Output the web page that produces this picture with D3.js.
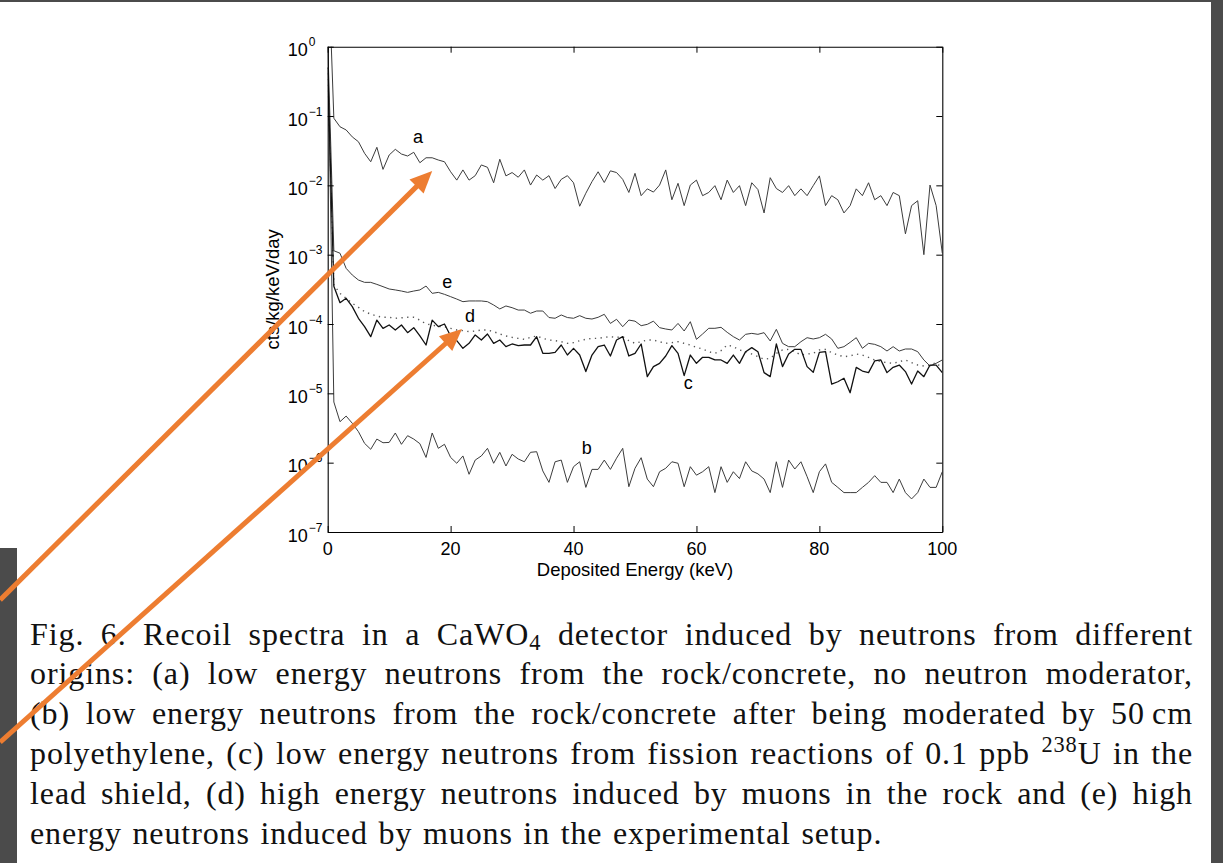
<!DOCTYPE html>
<html>
<head>
<meta charset="utf-8">
<script src="https://cdn.jsdelivr.net/npm/d3@7"></script>
<style>
  html, body { margin: 0; padding: 0; background: #fff; }
  svg { display: block; }
</style>
</head>
<body>
<svg id="fig" width="1223" height="863"></svg>
<script>
// Deposited energy bins (keV); bin 0 holds the low-energy spike
const energies = d3.range(0, 101);

// Recoil spectra, cts/kg/keV/day
const seriesA = [30, 0.093, 0.070, 0.063, 0.050, 0.0426, 0.029, 0.0219, 0.0354, 0.0170, 0.0274,
  0.0331, 0.0283, 0.0265, 0.030, 0.0212, 0.025, 0.025, 0.0232, 0.0219, 0.0157,
  0.0119, 0.0167, 0.0119, 0.0138, 0.0197, 0.0182, 0.0109, 0.0238, 0.0137, 0.0153,
  0.0131, 0.0167, 0.0101, 0.0141, 0.0119, 0.0138, 0.0090, 0.0122, 0.0138, 0.0109,
  0.0050, 0.0077, 0.0113, 0.0157, 0.011, 0.0162, 0.0153, 0.0122, 0.0079, 0.0149,
  0.0071, 0.0089, 0.0080, 0.0101, 0.0167, 0.0062, 0.0107, 0.0051, 0.0101, 0.0119,
  0.0071, 0.0079, 0.0099, 0.0062, 0.0119, 0.0079, 0.0099, 0.0051, 0.0109, 0.0087,
  0.0040, 0.0129, 0.0090, 0.0079, 0.0099, 0.0071, 0.0089, 0.0071, 0.0099, 0.0137,
  0.0051, 0.0071, 0.0062, 0.0040, 0.0051, 0.0089, 0.0071, 0.0109, 0.0062, 0.0071,
  0.0051, 0.0079, 0.0071, 0.0020, 0.0051, 0.0060, 0.0010, 0.0101, 0.0051, 0.00105];

const seriesB = [1.5, 7.5e-6, 3.9e-6, 4.7e-6, 3.7e-6, 2.8e-6, 1.9e-6, 1.56e-6, 2.19e-6, 1.94e-6, 1.96e-6,
  2.68e-6, 1.84e-6, 2.45e-6, 2.19e-6, 1.88e-6, 1.19e-6, 2.68e-6, 1.61e-6, 1.84e-6, 1.19e-6,
  9.8e-7, 1.25e-6, 6.8e-7, 1.09e-6, 1.25e-6, 1.61e-6, 9.8e-7, 1.41e-6, 8.95e-7, 1.32e-6,
  1.13e-6, 1.03e-6, 1.41e-6, 1.44e-6, 7.6e-7, 5.2e-7, 1.03e-6, 1.09e-6, 5.2e-7, 8.75e-7,
  1.03e-6, 4.4e-7, 8.0e-7, 8.0e-7, 1.09e-6, 8.0e-7, 1.16e-6, 1.61e-6, 4.5e-7, 8.3e-7,
  1.18e-6, 5.8e-7, 4.5e-7, 7.4e-7, 8.3e-7, 1.03e-6, 9.8e-7, 4.5e-7, 8.75e-7, 6.6e-7,
  7.4e-7, 8.75e-7, 3.7e-7, 8.75e-7, 5.2e-7, 7.4e-7, 5.9e-7, 1.03e-6, 7.6e-7, 6.9e-7,
  5.8e-7, 3.7e-7, 1.03e-6, 4.4e-7, 1.09e-6, 8.1e-7, 1.03e-6, 6.3e-7, 3.7e-7, 7.4e-7,
  9.6e-7, 5.2e-7, 4.4e-7, 3.7e-7, 3.7e-7, 3.7e-7, 4.4e-7, 5.2e-7, 6.5e-7, 5.2e-7,
  5.2e-7, 3.7e-7, 5.8e-7, 3.7e-7, 3.0e-7, 3.7e-7, 5.8e-7, 4.4e-7, 4.4e-7, 7.4e-7];

const seriesC = [0.5, 3.5e-4, 2.03e-4, 2.35e-4, 1.78e-4, 1.21e-4, 9.16e-5, 6.57e-5, 1.14e-4, 8.67e-5, 9.68e-5,
  8.2e-5, 9.68e-5, 7.5e-5, 8.86e-5, 6.72e-5, 4.98e-5, 1.14e-4, 9.16e-5, 1.0e-4, 6.72e-5,
  5.75e-5, 4.46e-5, 5.26e-5, 6.95e-5, 5.88e-5, 7.18e-5, 5.26e-5, 5.88e-5, 4.71e-5, 5.15e-5,
  4.87e-5, 4.98e-5, 4.98e-5, 6.57e-5, 3.78e-5, 3.78e-5, 3.9e-5, 4.98e-5, 3.57e-5, 4.46e-5,
  3.57e-5, 2.06e-5, 3.57e-5, 4.71e-5, 4.98e-5, 3.46e-5, 5.88e-5, 6.57e-5, 3.46e-5, 3.78e-5,
  5.15e-5, 1.74e-5, 2.43e-5, 2.71e-5, 3.46e-5, 4.87e-5, 3.78e-5, 1.8e-5, 3.57e-5, 2.71e-5,
  3.31e-5, 3.31e-5, 3.03e-5, 3.03e-5, 2.71e-5, 3.57e-5, 2.71e-5, 3.99e-5, 4.56e-5, 3.99e-5,
  1.99e-5, 1.74e-5, 5.15e-5, 2.43e-5, 3.69e-5, 4.31e-5, 4.31e-5, 2.43e-5, 2.01e-5, 3.9e-5,
  3.99e-5, 1.36e-5, 1.47e-5, 1.65e-5, 1.02e-5, 2.37e-5, 2.1e-5, 1.99e-5, 2.93e-5, 3.03e-5,
  1.99e-5, 2.37e-5, 2.56e-5, 2.06e-5, 1.36e-5, 2.1e-5, 1.74e-5, 2.56e-5, 2.56e-5, 1.99e-5];

const seriesD = [0.5, 3.66e-4, 2.77e-4, 2.35e-4, 1.99e-4, 1.74e-4, 1.51e-4, 1.39e-4, 1.30e-4, 1.25e-4, 1.25e-4,
  1.21e-4, 1.23e-4, 1.25e-4, 1.25e-4, 1.14e-4, 1.0e-4, 9.68e-5, 9.16e-5, 9.16e-5, 8.67e-5,
  8.2e-5, 8.02e-5, 7.76e-5, 7.93e-5, 8.2e-5, 8.2e-5, 7.76e-5, 7.18e-5, 6.72e-5, 6.42e-5,
  6.21e-5, 6.01e-5, 6.42e-5, 6.72e-5, 6.21e-5, 5.88e-5, 5.75e-5, 5.56e-5, 5.26e-5, 5.38e-5,
  5.75e-5, 6.01e-5, 6.21e-5, 6.21e-5, 6.42e-5, 6.57e-5, 6.42e-5, 6.57e-5, 5.75e-5, 5.26e-5,
  5.56e-5, 5.88e-5, 5.88e-5, 5.56e-5, 5.26e-5, 5.38e-5, 5.56e-5, 5.26e-5, 4.98e-5, 4.61e-5,
  4.36e-5, 3.99e-5, 3.78e-5, 4.13e-5, 4.98e-5, 4.71e-5, 4.22e-5, 3.99e-5, 3.69e-5, 3.38e-5,
  3.1e-5, 3.2e-5, 3.78e-5, 4.22e-5, 4.31e-5, 3.99e-5, 3.57e-5, 3.69e-5, 3.78e-5, 4.22e-5,
  4.31e-5, 3.86e-5, 3.57e-5, 3.38e-5, 3.46e-5, 3.69e-5, 3.57e-5, 3.31e-5, 3.03e-5, 2.86e-5,
  2.77e-5, 2.71e-5, 2.86e-5, 3.03e-5, 2.77e-5, 2.56e-5, 2.48e-5, 2.56e-5, 2.77e-5, 2.29e-5];

const seriesE = [1.2, 1.14e-3, 1.05e-3, 6.35e-4, 5.09e-4, 4.31e-4, 3.99e-4, 3.99e-4, 3.73e-4, 3.46e-4, 3.2e-4,
  3.1e-4, 2.99e-4, 2.86e-4, 2.99e-4, 3.1e-4, 3.53e-4, 2.77e-4, 2.86e-4, 2.68e-4, 2.48e-4,
  2.29e-4, 2.1e-4, 2.15e-4, 2.15e-4, 2.15e-4, 2.1e-4, 1.88e-4, 1.65e-4, 1.82e-4, 1.72e-4,
  1.59e-4, 1.59e-4, 1.43e-4, 1.54e-4, 1.54e-4, 1.24e-4, 1.21e-4, 1.35e-4, 1.24e-4, 1.21e-4,
  1.32e-4, 1.21e-4, 1.18e-4, 1.25e-4, 1.38e-4, 1.02e-4, 1.17e-4, 9.15e-5, 1.14e-4, 1.1e-4,
  9.46e-5, 9.89e-5, 1.1e-4, 8.86e-5, 8.47e-5, 8.2e-5, 1.02e-4, 7.93e-5, 1.08e-4, 6.01e-5,
  7.18e-5, 8.67e-5, 8.67e-5, 8.96e-5, 7.59e-5, 6.57e-5, 5.88e-5, 7.1e-5, 7.33e-5, 7.1e-5,
  7.5e-5, 5.69e-5, 8.38e-5, 5.26e-5, 4.71e-5, 4.71e-5, 5.56e-5, 6.35e-5, 6.08e-5, 6.35e-5,
  7.1e-5, 6.08e-5, 4.46e-5, 4.71e-5, 5.44e-5, 6.35e-5, 4.46e-5, 5.26e-5, 5.09e-5, 4.71e-5,
  4.08e-5, 4.71e-5, 4.08e-5, 4.36e-5, 4.36e-5, 3.99e-5, 3.03e-5, 2.48e-5, 2.71e-5, 3.03e-5];

// Axis ticks
const xTicks = [0, 20, 40, 60, 80, 100];
const yTickExponents = [0, -1, -2, -3, -4, -5, -6, -7];

// Curve tags: [letter, energy (keV), rate at the text baseline]
const curveTags = [
  ["a", 14.7, 0.0412],
  ["e", 19.46, 3.27e-4],
  ["d", 23.15, 1.08e-4],
  ["c", 58.67, 1.16e-5],
  ["b", 42.14, 1.33e-6]
];

// Highlight arrows, in plot units: tail and tip
const highlightArrows = [
  { from: [-53.3, 1.05e-8], to: [17.0, 0.0161] },
  { from: [-53.3, 9.3e-11], to: [21.85, 8.5e-5] }
];

// Caption lines (_{..} subscript, ^{..} superscript)
const captionLines = [
  "Fig. 6. Recoil spectra in a CaWO_{4} detector induced by neutrons from different",
  "origins: (a) low energy neutrons from the rock/concrete, no neutron moderator,",
  "(b) low energy neutrons from the rock/concrete after being moderated by 50\u2009cm",
  "polyethylene, (c) low energy neutrons from fission reactions of 0.1 ppb ^{238}U in the",
  "lead shield, (d) high energy neutrons induced by muons in the rock and (e) high",
  "energy neutrons induced by muons in the experimental setup."
];

const svg = d3.select("#fig");
const W = 1223, H = 863;
svg.append("rect").attr("width", W).attr("height", H).attr("fill", "#fff");

const plot = { left: 327.7, right: 942.3, top: 46.7, bottom: 532 };
const x = d3.scaleLinear().domain([0, 100]).range([plot.left, plot.right]);
const y = d3.scaleLog().domain([1e-7, 1]).range([plot.bottom, plot.top]);

const sansFont = "'Liberation Sans', Arial, Helvetica, sans-serif";

svg.append("clipPath").attr("id", "plotClip")
  .append("rect")
  .attr("x", plot.left).attr("y", plot.top)
  .attr("width", plot.right - plot.left).attr("height", plot.bottom - plot.top);

// Spectra
const line = d3.line().x((d, i) => x(energies[i])).y(d => y(d));
const curves = [
  { data: seriesA, stroke: "#3c3c3c", width: 1.0, dash: null },
  { data: seriesB, stroke: "#3c3c3c", width: 1.0, dash: null },
  { data: seriesE, stroke: "#3c3c3c", width: 1.0, dash: null },
  { data: seriesD, stroke: "#555", width: 1.4, dash: "1.3 4.4" },
  { data: seriesC, stroke: "#111", width: 1.3, dash: null }
];
const curveG = svg.append("g").attr("clip-path", "url(#plotClip)");
curveG.selectAll("path").data(curves).join("path")
  .attr("d", c => line(c.data))
  .attr("fill", "none")
  .attr("stroke", c => c.stroke)
  .attr("stroke-width", c => c.width)
  .attr("stroke-dasharray", c => c.dash)
  .attr("stroke-linejoin", "round");

// Axes box with inward ticks on all sides
const tickLen = 6;
const axG = svg.append("g").attr("font-family", sansFont);
axG.append("g").attr("transform", `translate(0,${plot.bottom})`)
  .call(d3.axisBottom(x).tickValues(xTicks).tickSizeInner(-tickLen).tickSizeOuter(0).tickFormat(""));
axG.append("g").attr("transform", `translate(0,${plot.top})`)
  .call(d3.axisTop(x).tickValues(xTicks).tickSizeInner(-tickLen).tickSizeOuter(0).tickFormat(""));
const yTickVals = yTickExponents.map(e => Math.pow(10, e));
axG.append("g").attr("transform", `translate(${plot.left},0)`)
  .call(d3.axisLeft(y).tickValues(yTickVals).tickSizeInner(-tickLen).tickSizeOuter(0).tickFormat(""));
axG.append("g").attr("transform", `translate(${plot.right},0)`)
  .call(d3.axisRight(y).tickValues(yTickVals).tickSizeInner(-tickLen).tickSizeOuter(0).tickFormat(""));
axG.selectAll(".domain").attr("stroke", "#000").attr("stroke-width", 1.1);
axG.selectAll(".tick line").attr("stroke", "#000").attr("stroke-width", 1);

// X tick labels
axG.selectAll("text.xlab").data(xTicks).join("text")
  .attr("class", "xlab")
  .attr("x", d => x(d)).attr("y", plot.bottom + 23)
  .attr("text-anchor", "middle")
  .attr("font-size", 18).attr("fill", "#000")
  .text(d => d);

// Y tick labels as powers of ten
const yLab = axG.selectAll("text.ylab").data(yTickExponents).join("text")
  .attr("class", "ylab")
  .attr("x", plot.left - 40)
  .attr("y", d => y(Math.pow(10, d)) + 9.5)
  .attr("font-size", 18).attr("fill", "#000");
yLab.append("tspan").text("10");
yLab.append("tspan")
  .attr("font-size", 12)
  .attr("dy", -10)
  .attr("dx", 1)
  .text(d => d === 0 ? "0" : "\u2212" + Math.abs(d));

// Axis titles
axG.append("text")
  .attr("x", (plot.left + plot.right) / 2).attr("y", plot.bottom + 44)
  .attr("text-anchor", "middle").attr("font-size", 18.5).attr("fill", "#000")
  .text("Deposited Energy (keV)");
axG.append("text")
  .attr("transform", `translate(${plot.left - 49},${(plot.top + plot.bottom) / 2}) rotate(-90)`)
  .attr("text-anchor", "middle").attr("font-size", 18.5).attr("fill", "#000")
  .text("cts/kg/keV/day");

// Curve tags
svg.append("g").selectAll("text").data(curveTags).join("text")
  .attr("x", d => x(d[1])).attr("y", d => y(d[2]))
  .attr("text-anchor", "middle")
  .attr("font-family", sansFont).attr("font-size", 18).attr("fill", "#000")
  .text(d => d[0]);

// Caption, justified between the margins
const cap = { left: 30, right: 1193, firstBaseline: 644.5, lineGap: 39.9, size: 32, spacing: 0.9 };
const capG = svg.append("g")
  .attr("font-family", "'Liberation Serif', 'Times New Roman', serif")
  .attr("font-size", cap.size)
  .attr("letter-spacing", cap.spacing)
  .attr("fill", "#111");

function parseWord(w) {
  const parts = [];
  const re = /(_\{([^}]*)\})|(\^\{([^}]*)\})|([^_^]+)/g;
  let m;
  while ((m = re.exec(w)) !== null) {
    if (m[2] !== undefined) parts.push({ t: m[2], k: "sub" });
    else if (m[4] !== undefined) parts.push({ t: m[4], k: "sup" });
    else parts.push({ t: m[5], k: "" });
  }
  return parts;
}

const shiftOf = { "": 0, sub: 5, sup: -12 };
captionLines.forEach((ln, li) => {
  const words = ln.split(" ");
  const baseline = cap.firstBaseline + li * cap.lineGap;
  const nodes = words.map(w => {
    const t = capG.append("text").attr("y", baseline);
    let shift = 0;
    parseWord(w).forEach(p => {
      const s = t.append("tspan").text(p.t);
      const target = shiftOf[p.k];
      if (target !== shift) s.attr("dy", target - shift);
      shift = target;
      if (p.k) s.attr("font-size", cap.size * 0.7);
    });
    return t;
  });
  const widths = nodes.map(n => n.node().getComputedTextLength());
  const total = d3.sum(widths);
  const isLast = li === captionLines.length - 1;
  const gap = isLast ? cap.size * 0.33
    : (cap.right - cap.left - total) / (words.length - 1);
  let cx = cap.left;
  nodes.forEach((n, i) => {
    n.attr("x", cx);
    cx += widths[i] + gap;
  });
});

// Page frame of the viewer
const frame = svg.append("g").attr("fill", "#4b4b4b");
frame.append("rect").attr("x", 0).attr("y", 0).attr("width", W).attr("height", 2);
frame.append("rect").attr("x", 1211).attr("y", 0).attr("width", W - 1211).attr("height", H);
frame.append("rect").attr("x", 0).attr("y", 548).attr("width", 17).attr("height", H - 548);

// Highlight arrows
const arrowG = svg.append("g");
const headLen = 22, headHalf = 10;
highlightArrows.forEach(a => {
  const x0 = x(a.from[0]), y0 = y(a.from[1]);
  const x1 = x(a.to[0]), y1 = y(a.to[1]);
  const ang = Math.atan2(y1 - y0, x1 - x0);
  const bx = x1 - headLen * Math.cos(ang), by = y1 - headLen * Math.sin(ang);
  arrowG.append("line")
    .attr("x1", x0).attr("y1", y0).attr("x2", bx + 2 * Math.cos(ang)).attr("y2", by + 2 * Math.sin(ang))
    .attr("stroke", "#ED7D31").attr("stroke-width", 5);
  const px = -Math.sin(ang), py = Math.cos(ang);
  arrowG.append("path")
    .attr("d", d3.line()([[x1, y1], [bx + px * headHalf, by + py * headHalf], [bx - px * headHalf, by - py * headHalf]]) + "Z")
    .attr("fill", "#ED7D31");
});
</script>
</body>
</html>
